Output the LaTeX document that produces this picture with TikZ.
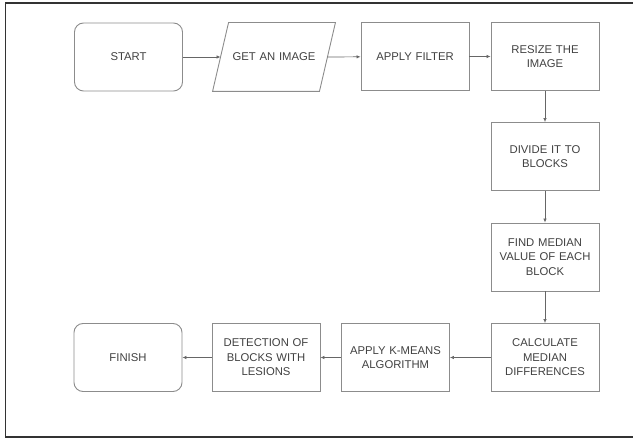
\documentclass[tikz,border=0pt]{standalone}
\usepackage{fontspec}
\setmainfont{Liberation Sans}
\usetikzlibrary{arrows.meta}
\definecolor{boxline}{HTML}{8C8C8C}
\definecolor{txt}{HTML}{404040}
\begin{document}
\begin{tikzpicture}[x=1pt,y=1pt,
  font=\fontsize{11.3}{14.5}\selectfont,
  box/.style={draw=boxline, line width=0.9pt, minimum width=108pt, minimum height=68pt,
    text width=104pt, align=center, text=txt, inner sep=0pt},
  term/.style={box, rounded corners=9pt},
  flow/.style={draw=black!60, line width=0.7pt, -{Latex[length=4pt,width=3.5pt]}}]
\useasboundingbox (0,0) rectangle (633,-438);
\draw[line width=1.4pt, black!80] (5.5,-3) rectangle (633.5,-437);
\node[term] (start) at (128.5,-57) {START};
\node[box, draw=none, minimum width=106pt] (get) at (274,-57) {GET AN IMAGE};
\draw[boxline, line width=0.9pt] ([xshift=-8pt]get.south west) -- ([xshift=-8pt]get.south east)
  -- ([xshift=8pt]get.north east) -- ([xshift=8pt]get.north west) -- cycle;
\node[box] (filter) at (415,-56.5) {APPLY FILTER};
\node[box] (resize) at (545,-56.5) {RESIZE THE\\IMAGE};
\node[box] (divide) at (545,-156.5) {DIVIDE IT TO\\BLOCKS};
\node[box] (find) at (545,-257) {FIND MEDIAN\\VALUE OF EACH\\BLOCK};
\node[box] (calc) at (545,-357.5) {CALCULATE\\MEDIAN\\DIFFERENCES};
\node[box] (kmeans) at (395.5,-357.5) {APPLY K-MEANS\\ALGORITHM};
\node[box] (detect) at (266,-357.5) {DETECTION OF\\BLOCKS WITH\\LESIONS};
\node[term] (finish) at (128,-357.5) {FINISH};
\draw[flow] (start) -- (get);
\draw[flow] (get.east) -- (filter);
\draw[flow] (filter) -- (resize);
\draw[flow] (resize) -- (divide);
\draw[flow] (divide) -- (find);
\draw[flow] (find) -- (calc);
\draw[flow] (calc) -- (kmeans);
\draw[flow] (kmeans) -- (detect);
\draw[flow] (detect) -- (finish);
\end{tikzpicture}
\end{document}
